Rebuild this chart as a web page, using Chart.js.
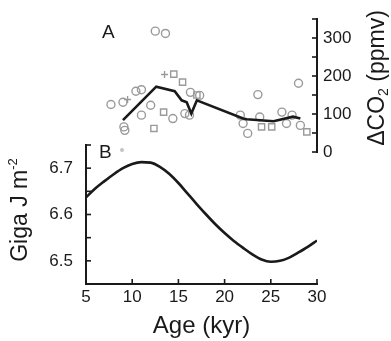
<!DOCTYPE html>
<html>
<head>
<meta charset="utf-8">
<script src="https://cdn.jsdelivr.net/npm/chart.js"></script>
<style>
  html, body { margin: 0; padding: 0; background: #fff; }
  #wrap { position: relative; width: 391px; height: 341px; }
  #wrap canvas { position: absolute; left: 0; top: 0; }
</style>
</head>
<body>
<div id="wrap">
  <canvas id="co2Chart" width="391" height="341"></canvas>
  <canvas id="insolChart" width="391" height="341"></canvas>
</div>
<script>
// --- Data ---

// Panel A: smoothed CO2 line
const co2LineAge = [9.0, 12.6, 14.6, 15.35, 15.9, 16.4, 17.0, 22.0, 22.4, 25.3, 27.4, 28.2];
const co2LineVal = [84, 172, 160, 136, 131, 101, 136, 88, 86, 81, 93, 88];

// Panel A: individual measurements (open circles)
const circleAge = [7.7, 9.0, 10.4, 11.0, 12.0, 11.0, 14.4, 16.3, 15.7, 16.2, 9.1, 9.2, 12.5, 13.6,
                   17.3, 23.6, 28.0, 21.7, 22.0, 22.5, 23.8, 26.2, 26.7, 27.3, 28.2];
const circleVal = [125, 131, 160, 164, 123, 97, 88, 157, 101, 97, 66, 57, 318, 312,
                   149, 151, 181, 97, 75, 49, 92, 105, 75, 97, 70];

// Panel A: individual measurements (open squares)
const squareAge = [14.5, 15.45, 13.4, 17.0, 12.35, 24.0, 25.1, 28.9];
const squareVal = [205, 184, 105, 150, 62, 66, 66, 53];

// Panel A: crosses
const crossAge = [13.5, 9.5];
const crossVal = [204, 138];

// Panel B: insolation
const insolAge = [5, 6, 7, 8, 9, 10, 11, 12, 13, 14, 15, 16, 17, 18, 19, 20, 21, 22, 23, 24, 25, 26, 27, 28, 29, 30];
const insolVal = [6.637, 6.656, 6.672, 6.687, 6.700, 6.709, 6.713, 6.712, 6.703, 6.688, 6.668, 6.645, 6.622,
                  6.600, 6.579, 6.560, 6.543, 6.528, 6.514, 6.503, 6.498, 6.500, 6.507, 6.518, 6.530, 6.544];

const xTicks = [5, 10, 15, 20, 25, 30];
const co2Ticks = [0, 50, 100, 150, 200, 250, 300, 350];
const co2Labels = [0, 100, 200, 300];
const insolTicks = [6.45, 6.5, 6.55, 6.6, 6.65, 6.7, 6.75];
const insolLabels = [6.5, 6.6, 6.7];

const FONT = 'Liberation Sans, Arial, Helvetica, sans-serif';
const INK = '#1a1a1a';
const MARK = '#9a9a9a';

const toPoints = (xs, ys) => xs.map((x, i) => ({ x, y: ys[i] }));

// Inward pointing tick marks, drawn from the scales' own tick positions
const inwardTicks = {
  id: 'inwardTicks',
  afterDraw(chart) {
    const ctx = chart.ctx;
    ctx.save();
    ctx.strokeStyle = INK;
    ctx.lineWidth = 1.6;
    Object.values(chart.scales).forEach(scale => {
      if (!scale.options.display) return;
      const len = 5;
      scale.ticks.forEach(t => {
        const p = scale.getPixelForValue(t.value);
        ctx.beginPath();
        if (scale.position === 'left') {
          ctx.moveTo(scale.right, p); ctx.lineTo(scale.right + len, p);
        } else if (scale.position === 'right') {
          ctx.moveTo(scale.left, p); ctx.lineTo(scale.left - len, p);
        } else {
          ctx.moveTo(p, scale.top); ctx.lineTo(p, scale.top - len);
        }
        ctx.stroke();
      });
    });
    ctx.restore();
  }
};

// Rotated axis titles with sub/superscripts, plus panel letters
function drawRotated(ctx, x, y, parts) {
  ctx.save();
  ctx.translate(x, y);
  ctx.rotate(-Math.PI / 2);
  ctx.textBaseline = 'middle';
  let total = 0;
  parts.forEach(p => { ctx.font = p.size + 'px ' + FONT; total += ctx.measureText(p.text).width; });
  let cx = -total / 2;
  parts.forEach(p => {
    ctx.font = p.size + 'px ' + FONT;
    ctx.fillText(p.text, cx, p.dy || 0);
    cx += ctx.measureText(p.text).width;
  });
  ctx.restore();
}

const titles = {
  id: 'titles',
  afterDraw(chart, args, opts) {
    const ctx = chart.ctx;
    ctx.save();
    ctx.fillStyle = INK;
    if (opts.which === 'co2') {
      drawRotated(ctx, 378, 78, [
        { text: 'ΔCO', size: 23 },
        { text: '2', size: 14, dy: 6 },
        { text: ' (ppmv)', size: 23 }
      ]);
      ctx.font = '19px ' + FONT;
      ctx.textBaseline = 'middle';
      ctx.fillText('A', 102, 33);
    } else {
      drawRotated(ctx, 21, 210, [
        { text: 'Giga J m', size: 23 },
        { text: '-2', size: 13, dy: -8 }
      ]);
      ctx.font = '19px ' + FONT;
      ctx.textBaseline = 'middle';
      ctx.fillText('B', 99, 153);
      ctx.fillStyle = '#c4c4c4';
      ctx.beginPath();
      ctx.arc(122, 150, 2, 0, Math.PI * 2);
      ctx.fill();
    }
    ctx.restore();
  }
};

const xScaleBase = { type: 'linear', min: 5, max: 30 };

// --- Panel A: CO2 ---
new Chart(document.getElementById('co2Chart'), {
  type: 'scatter',
  data: {
    datasets: [
      { type: 'line', data: toPoints(co2LineAge, co2LineVal), borderColor: INK, borderWidth: 2.6,
        pointRadius: 0, tension: 0, order: 0 },
      { data: toPoints(circleAge, circleVal), pointStyle: 'circle', pointRadius: 4,
        borderColor: MARK, borderWidth: 1.4, backgroundColor: 'rgba(0,0,0,0)', order: 1 },
      { data: toPoints(squareAge, squareVal), pointStyle: 'rect', pointRadius: 4.4,
        borderColor: MARK, borderWidth: 1.4, backgroundColor: 'rgba(0,0,0,0)', order: 1 },
      { data: toPoints(crossAge, crossVal), pointStyle: 'cross', pointRadius: 3.5,
        borderColor: MARK, borderWidth: 1.4, order: 1 }
    ]
  },
  options: {
    animation: false,
    responsive: false,
    layout: { padding: { left: 86, right: 0, top: 19, bottom: 189 } },
    plugins: { legend: { display: false }, tooltip: { enabled: false }, titles: { which: 'co2' } },
    scales: {
      x: Object.assign({ display: false }, xScaleBase),
      y: {
        position: 'right',
        min: 0, max: 350,
        afterFit(scale) { scale.width = 74; },
        afterBuildTicks(scale) { scale.ticks = co2Ticks.map(v => ({ value: v })); },
        ticks: {
          autoSkip: false,
          padding: 6,
          color: INK,
          font: { family: FONT, size: 17 },
          callback: v => co2Labels.includes(v) ? String(v) : ''
        },
        grid: { drawOnChartArea: false, drawTicks: false },
        border: { color: INK, width: 2 }
      }
    }
  },
  plugins: [inwardTicks, titles]
});

// --- Panel B: insolation ---
new Chart(document.getElementById('insolChart'), {
  type: 'line',
  data: {
    datasets: [
      { data: toPoints(insolAge, insolVal), borderColor: INK, borderWidth: 2.6,
        pointRadius: 0, tension: 0.4, cubicInterpolationMode: 'monotone' }
    ]
  },
  options: {
    animation: false,
    responsive: false,
    layout: { padding: { left: 0, right: 74, top: 145, bottom: 0 } },
    plugins: { legend: { display: false }, tooltip: { enabled: false }, titles: { which: 'insol' } },
    scales: {
      x: Object.assign({
        position: 'bottom',
        afterFit(scale) { scale.height = 57; },
        afterBuildTicks(scale) { scale.ticks = xTicks.map(v => ({ value: v })); },
        ticks: { autoSkip: false, padding: 3, color: INK, font: { family: FONT, size: 17 }, maxRotation: 0 },
        grid: { drawOnChartArea: false, drawTicks: false },
        border: { color: INK, width: 2 },
        title: { display: true, text: 'Age (kyr)', color: INK, font: { family: FONT, size: 24 },
                 padding: { top: 0, bottom: 0 } }
      }, xScaleBase),
      y: {
        position: 'left',
        min: 6.45, max: 6.75,
        afterFit(scale) { scale.width = 86; },
        afterBuildTicks(scale) { scale.ticks = insolTicks.map(v => ({ value: v })); },
        ticks: {
          autoSkip: false,
          padding: 13,
          color: INK,
          font: { family: FONT, size: 17 },
          callback: v => insolLabels.some(l => Math.abs(l - v) < 1e-6) ? v.toFixed(1) : ''
        },
        grid: { drawOnChartArea: false, drawTicks: false },
        border: { color: INK, width: 2 }
      }
    }
  },
  plugins: [inwardTicks, titles]
});
</script>
</body>
</html>
